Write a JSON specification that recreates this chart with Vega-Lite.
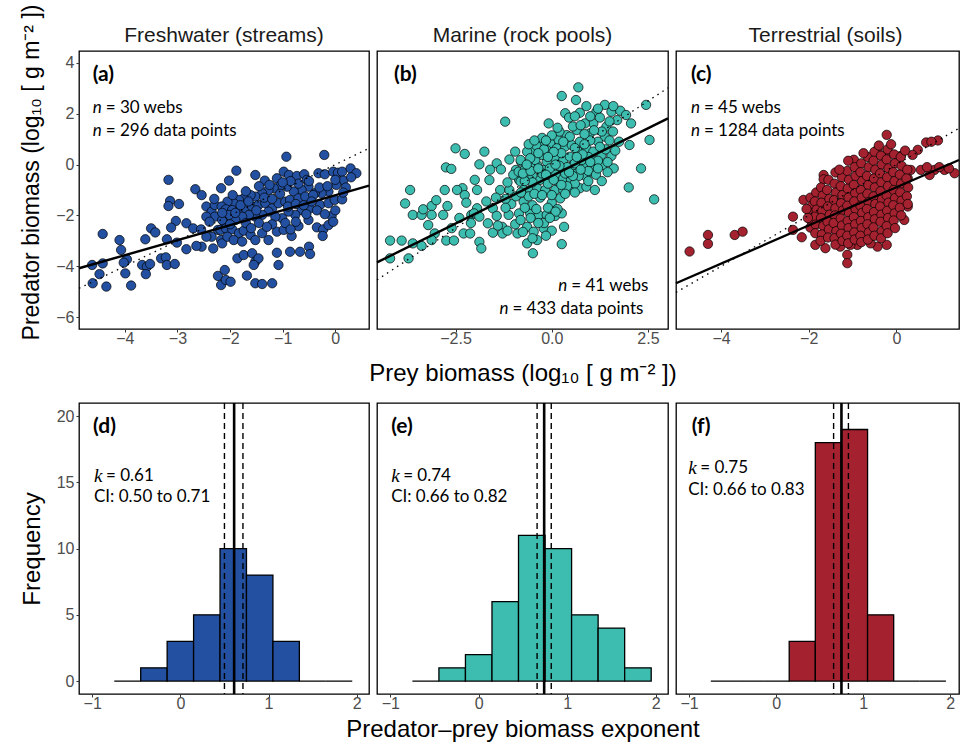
{
"$schema": "https://vega.github.io/schema/vega-lite/v6.json",
"background": "white",
"padding": {"left": 19, "top": 3, "right": 0, "bottom": 0},
"bounds": "flush",
"columns": 3,
"spacing": {"row": 74, "column": 8},
"datasets": {
"freshwater": [
{"prey":-3.17,"pred":-0.60},{"prey":-2.66,"pred":-0.97},{"prey":-2.54,"pred":-1.20},{"prey":-2.17,"pred":-0.93},{"prey":-3.14,"pred":-1.43},{"prey":-3.17,"pred":-1.63},{"prey":-2.97,"pred":-1.55},{"prey":-3.03,"pred":-2.22},{"prey":-3.12,"pred":-2.48},{"prey":-2.83,"pred":-2.31},{"prey":-2.70,"pred":-2.51},{"prey":-2.55,"pred":-2.55},{"prey":-3.50,"pred":-2.51},{"prey":-3.42,"pred":-2.67},{"prey":-3.61,"pred":-2.94},{"prey":-3.20,"pred":-2.94},{"prey":-3.01,"pred":-3.07},{"prey":-2.83,"pred":-3.33},{"prey":-4.42,"pred":-2.73},{"prey":-4.10,"pred":-2.97},{"prey":-4.07,"pred":-3.36},{"prey":-3.96,"pred":-3.73},{"prey":-4.02,"pred":-3.86},{"prey":-4.62,"pred":-3.95},{"prey":-4.42,"pred":-3.89},{"prey":-4.48,"pred":-4.31},{"prey":-4.61,"pred":-4.67},{"prey":-4.35,"pred":-4.80},{"prey":-3.88,"pred":-4.76},{"prey":-3.99,"pred":-4.28},{"prey":-3.67,"pred":-3.95},{"prey":-3.58,"pred":-4.02},{"prey":-3.52,"pred":-3.91},{"prey":-3.60,"pred":-4.31},{"prey":-3.31,"pred":-3.69},{"prey":-3.22,"pred":-3.65},{"prey":-3.20,"pred":-3.95},{"prey":-3.05,"pred":-3.91},{"prey":-2.23,"pred":-4.38},{"prey":-2.17,"pred":-4.74},{"prey":-2.10,"pred":-4.15},{"prey":-2.45,"pred":-1.65},{"prey":-2.35,"pred":-1.85},{"prey":-2.29,"pred":-1.59},{"prey":-2.29,"pred":-2.05},{"prey":-2.45,"pred":-2.05},{"prey":-2.39,"pred":-2.25},{"prey":-2.23,"pred":-2.57},{"prey":-2.35,"pred":-2.84},{"prey":-2.54,"pred":-3.23},{"prey":-2.32,"pred":-3.30},{"prey":-2.17,"pred":-2.97},{"prey":-2.10,"pred":-2.31},{"prey":-2.45,"pred":-2.84},{"prey":-2.64,"pred":-3.20},
{"prey":-0.93,"pred":0.31},{"prey":-0.21,"pred":0.38},{"prey":-1.88,"pred":-0.24},{"prey":-2.02,"pred":-0.63},{"prey":-1.52,"pred":-0.41},{"prey":-1.34,"pred":-0.63},{"prey":-1.11,"pred":-0.54},{"prey":-0.98,"pred":-0.28},{"prey":-0.88,"pred":-0.41},{"prey":-0.73,"pred":-0.45},{"prey":-0.59,"pred":-0.38},{"prey":-0.54,"pred":-0.60},{"prey":-0.32,"pred":-0.34},{"prey":-0.20,"pred":-0.38},{"prey":-0.04,"pred":-0.28},{"prey":0.05,"pred":-0.32},{"prey":0.13,"pred":-0.28},{"prey":0.29,"pred":-0.15},{"prey":0.40,"pred":-0.34},{"prey":0.15,"pred":-0.63},{"prey":0.02,"pred":-0.80},{"prey":-0.13,"pred":-1.06},{"prey":-0.26,"pred":-1.13},{"prey":-0.39,"pred":-1.13},{"prey":-0.51,"pred":-0.87},{"prey":-0.64,"pred":-1.00},{"prey":-0.79,"pred":-1.06},{"prey":-0.92,"pred":-0.87},{"prey":-1.05,"pred":-0.84},{"prey":-1.17,"pred":-0.93},{"prey":-1.27,"pred":-1.00},{"prey":-1.39,"pred":-1.13},{"prey":-1.52,"pred":-1.26},{"prey":-1.61,"pred":-1.20},{"prey":-1.74,"pred":-1.33},{"prey":-1.83,"pred":-1.39},{"prey":-1.93,"pred":-1.52},{"prey":-2.05,"pred":-1.46},{"prey":-2.16,"pred":-1.65},{"prey":-2.08,"pred":-1.76},{"prey":-1.96,"pred":-1.79},{"prey":-1.83,"pred":-1.85},{"prey":-1.71,"pred":-1.72},{"prey":-1.58,"pred":-1.65},{"prey":-1.46,"pred":-1.59},{"prey":-1.33,"pred":-1.52},{"prey":-1.20,"pred":-1.72},{"prey":-1.08,"pred":-1.52},{"prey":-0.95,"pred":-1.46},{"prey":-0.86,"pred":-1.39},{"prey":-0.70,"pred":-1.33},{"prey":-0.57,"pred":-1.26},{"prey":-0.42,"pred":-1.20},{"prey":-0.29,"pred":-1.59},{"prey":-0.13,"pred":-1.52},{"prey":-0.01,"pred":-1.39},{"prey":0.13,"pred":-1.37},{"prey":-0.48,"pred":-1.72},{"prey":-0.64,"pred":-1.79},{"prey":-0.76,"pred":-1.98},{"prey":-0.89,"pred":-1.85},{"prey":-1.01,"pred":-2.11},{"prey":-1.14,"pred":-2.05},{"prey":-1.27,"pred":-1.85},{"prey":-1.39,"pred":-1.98},{"prey":-1.52,"pred":-2.05},{"prey":-1.64,"pred":-1.98},{"prey":-1.77,"pred":-2.05},{"prey":-1.90,"pred":-2.18},{"prey":-2.02,"pred":-1.98},{"prey":-2.15,"pred":-2.18},{"prey":-2.18,"pred":-2.57},{"prey":-2.08,"pred":-2.51},{"prey":-1.96,"pred":-2.55},{"prey":-1.83,"pred":-2.70},{"prey":-1.74,"pred":-2.60},{"prey":-1.61,"pred":-2.77},{"prey":-1.52,"pred":-2.97},{"prey":-1.39,"pred":-2.70},{"prey":-1.27,"pred":-2.97},{"prey":-1.11,"pred":-2.64},{"prey":-0.98,"pred":-2.57},{"prey":-0.83,"pred":-2.81},{"prey":-0.70,"pred":-2.42},{"prey":-0.51,"pred":-2.18},{"prey":-0.35,"pred":-2.47},{"prey":-0.23,"pred":-2.55},{"prey":-0.13,"pred":-2.38},{"prey":-0.07,"pred":-2.02},{"prey":-0.04,"pred":-2.25},{"prey":-2.15,"pred":-3.10},{"prey":-2.05,"pred":-2.84},{"prey":-1.93,"pred":-2.97},{"prey":-1.77,"pred":-3.03},{"prey":-1.86,"pred":-3.69},{"prey":-1.74,"pred":-3.56},{"prey":-1.58,"pred":-3.49},{"prey":-1.52,"pred":-3.82},{"prey":-1.46,"pred":-3.69},{"prey":-1.55,"pred":-3.95},{"prey":-1.11,"pred":-3.47},{"prey":-1.08,"pred":-3.95},{"prey":-0.86,"pred":-3.43},{"prey":-0.67,"pred":-3.43},{"prey":-0.50,"pred":-3.23},{"prey":-0.48,"pred":-3.52},{"prey":-1.68,"pred":-4.37},{"prey":-1.52,"pred":-4.67},{"prey":-1.39,"pred":-4.70},{"prey":-1.20,"pred":-4.67},{"prey":-2.08,"pred":-4.54},{"prey":-1.99,"pred":-4.61},{"prey":-0.24,"pred":-2.81},
{"prey":-1.95,"pred":-1.20},{"prey":-1.80,"pred":-1.60},{"prey":-1.65,"pred":-1.45},{"prey":-1.50,"pred":-1.80},{"prey":-1.35,"pred":-1.30},{"prey":-1.20,"pred":-1.35},{"prey":-1.05,"pred":-1.15},{"prey":-0.90,"pred":-1.65},{"prey":-0.75,"pred":-1.55},{"prey":-0.60,"pred":-1.60},{"prey":-0.45,"pred":-1.45},{"prey":-0.30,"pred":-0.90},{"prey":-0.15,"pred":-0.85},{"prey":0.00,"pred":-0.60},{"prey":0.20,"pred":-0.90},{"prey":-0.50,"pred":-0.65},{"prey":-0.70,"pred":-0.75},{"prey":-0.85,"pred":-0.65},{"prey":-1.00,"pred":-0.70},{"prey":-1.25,"pred":-0.80},{"prey":-1.45,"pred":-0.85},{"prey":-1.70,"pred":-1.05},{"prey":-1.90,"pred":-1.90},{"prey":-1.70,"pred":-2.30},{"prey":-1.45,"pred":-2.30},{"prey":-1.20,"pred":-2.35},{"prey":-0.95,"pred":-2.30},{"prey":-0.75,"pred":-2.25},{"prey":-0.55,"pred":-1.95},{"prey":-0.35,"pred":-1.80},{"prey":-0.20,"pred":-1.95},{"prey":0.00,"pred":-1.80},{"prey":0.15,"pred":-1.10},{"prey":0.30,"pred":-0.50},{"prey":-1.60,"pred":-2.50},{"prey":-1.30,"pred":-2.45},{"prey":-0.85,"pred":-2.55},{"prey":-2.00,"pred":-2.35},{"prey":-2.15,"pred":-1.90},{"prey":-2.30,"pred":-1.35}
],
"marine": [
{"prey":-1.21,"pred":1.69},{"prey":-2.50,"pred":0.64},{"prey":-2.26,"pred":0.42},{"prey":-1.75,"pred":0.51},{"prey":-2.75,"pred":-0.11},{"prey":-2.61,"pred":-0.17},{"prey":-1.88,"pred":0.01},{"prey":-1.43,"pred":0.05},{"prey":-1.32,"pred":-0.19},{"prey":-0.95,"pred":0.51},{"prey":-0.93,"pred":-0.21},{"prey":-0.80,"pred":0.12},{"prey":-1.62,"pred":-0.61},{"prey":-1.34,"pred":-1.00},{"prey":-1.10,"pred":-1.00},{"prey":-1.94,"pred":-1.00},{"prey":-2.32,"pred":-0.93},{"prey":-2.46,"pred":-1.00},{"prey":-2.78,"pred":-1.00},{"prey":-3.68,"pred":-1.00},{"prey":-3.81,"pred":-1.53},{"prey":-3.61,"pred":-1.98},{"prey":-3.38,"pred":-1.98},{"prey":-3.34,"pred":-1.76},{"prey":-3.12,"pred":-1.63},{"prey":-3.12,"pred":-1.98},{"prey":-2.82,"pred":-1.98},{"prey":-2.71,"pred":-1.63},{"prey":-3.21,"pred":-2.38},{"prey":-3.04,"pred":-2.71},{"prey":-3.12,"pred":-2.97},{"prey":-2.74,"pred":-2.99},{"prey":-2.54,"pred":-2.99},{"prey":-2.29,"pred":-2.71},{"prey":-2.12,"pred":-2.71},{"prey":-2.26,"pred":-1.20},{"prey":-2.22,"pred":-1.50},{"prey":-2.09,"pred":-1.98},{"prey":-1.94,"pred":-1.72},{"prey":-2.02,"pred":-1.92},{"prey":-1.88,"pred":-2.05},{"prey":-1.88,"pred":-3.04},{"prey":-1.83,"pred":-3.30},{"prey":-1.66,"pred":-2.31},{"prey":-1.53,"pred":-1.72},{"prey":-1.53,"pred":-2.68},{"prey":-1.43,"pred":-2.02},{"prey":-1.29,"pred":-2.45},{"prey":-1.28,"pred":-2.71},{"prey":-1.12,"pred":-1.98},{"prey":-0.89,"pred":-2.71},{"prey":-0.85,"pred":-1.92},{"prey":-4.20,"pred":-2.99},{"prey":-3.90,"pred":-2.99},{"prey":-3.61,"pred":-3.10},{"prey":-3.38,"pred":-3.20},{"prey":-4.20,"pred":-3.69},{"prey":-3.72,"pred":-3.69},
{"prey":-1.05,"pred":-1.55},{"prey":-0.93,"pred":-1.25},{"prey":-1.20,"pred":-1.35},{"prey":-0.85,"pred":-0.60},{"prey":-1.00,"pred":-0.40},{"prey":-1.15,"pred":-0.70},{"prey":-0.95,"pred":-2.35},{"prey":-1.15,"pred":-2.60},{"prey":-1.40,"pred":-2.40},
{"prey":0.69,"pred":3.04},{"prey":0.26,"pred":2.70},{"prey":0.63,"pred":2.54},{"prey":0.35,"pred":2.02},{"prey":0.73,"pred":2.04},{"prey":-0.08,"pred":1.62},{"prey":1.16,"pred":2.08},{"prey":1.38,"pred":2.35},{"prey":1.55,"pred":2.08},{"prey":1.78,"pred":2.12},{"prey":1.93,"pred":1.95},{"prey":2.06,"pred":1.62},{"prey":2.45,"pred":2.35},{"prey":2.54,"pred":0.97},{"prey":2.02,"pred":0.77},{"prey":1.61,"pred":-0.15},{"prey":2.32,"pred":-0.15},{"prey":2.00,"pred":-0.90},{"prey":2.66,"pred":-1.37},{"prey":1.08,"pred":1.62},{"prey":0.86,"pred":1.62},{"prey":1.42,"pred":1.49},{"prey":1.59,"pred":1.30},{"prey":1.38,"pred":1.10},{"prey":1.20,"pred":0.90},{"prey":0.99,"pred":1.23},{"prey":0.65,"pred":1.36},{"prey":0.39,"pred":1.16},{"prey":0.17,"pred":0.97},{"prey":-0.04,"pred":0.84},{"prey":-0.26,"pred":0.84},{"prey":-0.47,"pred":0.51},{"prey":-0.64,"pred":0.51},{"prey":-0.81,"pred":0.18},{"prey":-0.86,"pred":-0.28},{"prey":-0.81,"pred":-0.67},{"prey":-0.73,"pred":-1.00},{"prey":-0.56,"pred":-1.00},{"prey":-0.38,"pred":-0.93},{"prey":-0.17,"pred":-1.00},{"prey":0.09,"pred":-1.00},{"prey":0.30,"pred":-1.00},{"prey":0.52,"pred":-0.93},{"prey":0.73,"pred":-0.93},{"prey":0.90,"pred":-0.87},{"prey":1.12,"pred":-1.00},{"prey":0.22,"pred":-1.33},{"prey":0.90,"pred":-0.48},{"prey":1.08,"pred":-0.21},{"prey":1.33,"pred":-0.02},{"prey":1.55,"pred":0.34},{"prey":1.29,"pred":0.38},{"prey":1.08,"pred":0.18},{"prey":0.82,"pred":-0.02},{"prey":0.60,"pred":-0.28},{"prey":0.39,"pred":-0.54},{"prey":0.17,"pred":-0.67},{"prey":-0.04,"pred":-0.48},{"prey":-0.21,"pred":-0.21},{"prey":-0.38,"pred":-0.02},{"prey":-0.56,"pred":-0.08},{"prey":-0.64,"pred":-0.41},{"prey":-0.13,"pred":0.12},{"prey":0.09,"pred":0.25},{"prey":0.30,"pred":0.18},{"prey":0.47,"pred":0.31},{"prey":0.69,"pred":0.51},{"prey":0.90,"pred":0.64},{"prey":1.08,"pred":0.51},{"prey":0.78,"pred":0.18},{"prey":0.56,"pred":-0.02},{"prey":0.30,"pred":-0.21},{"prey":0.04,"pred":-0.15},{"prey":-0.26,"pred":0.38},{"prey":-0.43,"pred":0.18},{"prey":0.13,"pred":0.64},{"prey":0.35,"pred":0.71},{"prey":0.52,"pred":0.77},{"prey":0.73,"pred":0.90},{"prey":0.47,"pred":1.10},{"prey":-0.13,"pred":0.57},{"prey":-0.56,"pred":0.25},{"prey":-0.73,"pred":-1.46},{"prey":-0.56,"pred":-1.92},{"prey":-0.34,"pred":-1.98},{"prey":-0.13,"pred":-1.98},{"prey":0.09,"pred":-2.02},{"prey":0.26,"pred":-1.92},{"prey":-0.81,"pred":-2.18},{"prey":-0.64,"pred":-2.45},{"prey":-0.47,"pred":-2.64},{"prey":-0.21,"pred":-2.51},{"prey":0.32,"pred":-2.45},{"prey":0.26,"pred":-3.13},{"prey":-0.49,"pred":-3.49},{"prey":-0.64,"pred":-3.10},{"prey":-0.38,"pred":-2.97},
{"prey":-0.70,"pred":-0.20},{"prey":-0.50,"pred":-0.45},{"prey":-0.30,"pred":-0.60},{"prey":-0.10,"pred":-0.75},{"prey":0.10,"pred":-0.40},{"prey":0.30,"pred":-0.55},{"prey":0.50,"pred":-0.60},{"prey":0.70,"pred":-0.45},{"prey":0.95,"pred":-0.25},{"prey":1.20,"pred":0.15},{"prey":1.40,"pred":0.60},{"prey":1.25,"pred":0.70},{"prey":1.00,"pred":0.95},{"prey":0.85,"pred":1.20},{"prey":0.55,"pred":1.50},{"prey":0.20,"pred":1.30},{"prey":0.00,"pred":1.15},{"prey":-0.25,"pred":1.05},{"prey":-0.40,"pred":0.75},{"prey":-0.60,"pred":0.80},{"prey":0.25,"pred":0.45},{"prey":0.05,"pred":0.50},{"prey":-0.20,"pred":0.60},{"prey":0.60,"pred":0.05},{"prey":0.40,"pred":-0.10},{"prey":0.20,"pred":-0.05},{"prey":-0.05,"pred":-0.15},{"prey":0.95,"pred":0.30},{"prey":1.15,"pred":-0.40},{"prey":1.30,"pred":-0.65},{"prey":0.60,"pred":-0.75},{"prey":0.40,"pred":-0.85},{"prey":-0.25,"pred":-0.35},{"prey":-0.50,"pred":-0.70},{"prey":-0.70,"pred":-0.65},{"prey":1.70,"pred":1.75},{"prey":1.50,"pred":1.70},{"prey":1.25,"pred":1.85},{"prey":1.00,"pred":1.90},{"prey":0.45,"pred":1.85},{"prey":1.75,"pred":0.90},{"prey":0.00,"pred":-1.50},{"prey":-0.30,"pred":-1.30},{"prey":-0.50,"pred":-1.60},{"prey":0.15,"pred":-1.75},{"prey":-0.60,"pred":-1.25},{"prey":-0.20,"pred":-2.30},{"prey":0.00,"pred":-2.60},
{"prey":-0.45,"pred":0.95},{"prey":-0.15,"pred":0.95},{"prey":0.15,"pred":1.45},{"prey":0.30,"pred":0.90},{"prey":0.60,"pred":0.65},{"prey":0.80,"pred":0.40},{"prey":1.00,"pred":0.10},{"prey":1.20,"pred":-0.15},{"prey":1.45,"pred":0.10},{"prey":1.65,"pred":0.55},{"prey":1.50,"pred":0.95},{"prey":1.30,"pred":1.30},{"prey":1.10,"pred":1.35},{"prey":0.75,"pred":1.55},{"prey":0.60,"pred":1.90},{"prey":0.90,"pred":2.30},{"prey":1.20,"pred":2.20},{"prey":1.60,"pred":2.30},{"prey":-0.35,"pred":0.45},{"prey":-0.10,"pred":0.30},{"prey":0.10,"pred":0.00},{"prey":0.35,"pred":-0.35},{"prey":0.55,"pred":-0.45},{"prey":0.75,"pred":-0.20},{"prey":0.95,"pred":-0.65},{"prey":1.45,"pred":-0.30},{"prey":-0.75,"pred":-0.35},{"prey":-0.55,"pred":-0.25},{"prey":-0.35,"pred":-0.15},{"prey":-0.15,"pred":-0.40},{"prey":0.05,"pred":-0.60},{"prey":0.25,"pred":-0.80},{"prey":0.45,"pred":-0.30},{"prey":0.65,"pred":0.30},{"prey":0.85,"pred":0.80},{"prey":-0.65,"pred":0.00},{"prey":-0.80,"pred":-1.10},{"prey":-0.45,"pred":-1.15},{"prey":-0.25,"pred":-1.20},{"prey":0.00,"pred":-1.20},{"prey":0.35,"pred":-1.15},{"prey":0.60,"pred":-1.10},{"prey":-0.70,"pred":-1.70},{"prey":-0.40,"pred":-1.75},{"prey":-0.10,"pred":-1.70},{"prey":0.10,"pred":-1.85},{"prey":-0.55,"pred":-2.10},{"prey":-0.35,"pred":-2.30},{"prey":-0.75,"pred":-2.65},{"prey":-0.50,"pred":-2.90},{"prey":-0.15,"pred":-2.80},{"prey":-0.05,"pred":-2.10},{"prey":-1.20,"pred":-1.70},{"prey":-1.45,"pred":-1.30},{"prey":-1.70,"pred":-1.45},{"prey":-2.00,"pred":-0.60},{"prey":-1.60,"pred":-0.20},{"prey":-1.10,"pred":0.20},{"prey":-2.10,"pred":-2.30},{"prey":-2.40,"pred":-2.10},{"prey":-2.60,"pred":-2.50},{"prey":-3.00,"pred":-1.40}
],
"terrestrial": [
{"prey":-4.72,"pred":-3.42},{"prey":-4.30,"pred":-2.77},{"prey":-4.30,"pred":-3.12},{"prey":-3.69,"pred":-2.77},{"prey":-3.51,"pred":-2.64},{"prey":-2.36,"pred":-2.05},{"prey":-2.36,"pred":-2.57},{"prey":-2.16,"pred":-2.86},{"prey":-1.12,"pred":-3.55},{"prey":-1.12,"pred":-3.88},{"prey":-0.22,"pred":1.17},{"prey":0.68,"pred":0.87},{"prey":0.95,"pred":0.95},{"prey":0.80,"pred":0.90},{"prey":0.49,"pred":0.58},{"prey":0.37,"pred":0.38},{"prey":0.10,"pred":0.34},{"prey":-0.97,"pred":0.19},{"prey":-0.43,"pred":0.58},{"prey":-0.20,"pred":0.45},{"prey":-1.66,"pred":-0.41},{"prey":-1.66,"pred":-0.58},{"prey":-1.39,"pred":-0.31},{"prey":0.56,"pred":-0.21},{"prey":0.87,"pred":-0.21},{"prey":1.10,"pred":-0.21},{"prey":1.33,"pred":-0.34},{"prey":0.76,"pred":-0.41},{"prey":0.33,"pred":-0.21},{"prey":0.26,"pred":-0.54},{"prey":0.26,"pred":-1.65},{"prey":0.18,"pred":-2.18},{"prey":-0.22,"pred":-3.16},{"prey":-0.43,"pred":-3.23},{"prey":-0.59,"pred":-3.10},{"prey":-0.89,"pred":-3.16},{"prey":-1.05,"pred":-3.16},{"prey":-1.28,"pred":-3.23},{"prey":-1.62,"pred":-3.29},{"prey":-1.85,"pred":-3.16},{"prey":-2.12,"pred":-1.39},{"prey":0.98,"pred":-0.10},{"prey":1.20,"pred":-0.15},{"prey":0.70,"pred":-0.10},
{"prey":-1.96,"pred":-1.30},{"prey":-1.93,"pred":-1.62},{"prey":-1.97,"pred":-1.90},{"prey":-1.94,"pred":-2.22},{"prey":-1.96,"pred":-2.48},
{"prey":-1.83,"pred":-1.10},{"prey":-1.86,"pred":-1.45},{"prey":-1.82,"pred":-1.77},{"prey":-1.87,"pred":-2.05},{"prey":-1.84,"pred":-2.36},{"prey":-1.85,"pred":-2.70},
{"prey":-1.72,"pred":-0.90},{"prey":-1.68,"pred":-1.22},{"prey":-1.71,"pred":-1.50},{"prey":-1.69,"pred":-1.82},{"prey":-1.72,"pred":-2.10},{"prey":-1.67,"pred":-2.42},{"prey":-1.70,"pred":-2.75},{"prey":-1.73,"pred":-3.00},
{"prey":-1.55,"pred":-0.60},{"prey":-1.58,"pred":-1.00},{"prey":-1.53,"pred":-1.35},{"prey":-1.56,"pred":-1.65},{"prey":-1.52,"pred":-1.97},{"prey":-1.57,"pred":-2.25},{"prey":-1.54,"pred":-2.55},{"prey":-1.56,"pred":-2.87},
{"prey":-1.41,"pred":-0.75},{"prey":-1.38,"pred":-1.10},{"prey":-1.42,"pred":-1.40},{"prey":-1.39,"pred":-1.72},{"prey":-1.40,"pred":-2.00},{"prey":-1.43,"pred":-2.30},{"prey":-1.37,"pred":-2.62},{"prey":-1.41,"pred":-2.90},{"prey":-1.39,"pred":-3.15},
{"prey":-1.24,"pred":-0.50},{"prey":-1.27,"pred":-0.85},{"prey":-1.23,"pred":-1.20},{"prey":-1.26,"pred":-1.52},{"prey":-1.22,"pred":-1.80},{"prey":-1.27,"pred":-2.12},{"prey":-1.24,"pred":-2.40},{"prey":-1.26,"pred":-2.72},{"prey":-1.23,"pred":-3.00},
{"prey":-1.10,"pred":0.15},{"prey":-1.12,"pred":-0.25},{"prey":-1.08,"pred":-0.60},{"prey":-1.11,"pred":-0.95},{"prey":-1.09,"pred":-1.30},{"prey":-1.12,"pred":-1.62},{"prey":-1.08,"pred":-1.90},{"prey":-1.11,"pred":-2.22},{"prey":-1.09,"pred":-2.50},{"prey":-1.12,"pred":-2.80},{"prey":-1.10,"pred":-3.10},
{"prey":-0.95,"pred":-0.10},{"prey":-0.93,"pred":-0.45},{"prey":-0.97,"pred":-0.80},{"prey":-0.94,"pred":-1.12},{"prey":-0.96,"pred":-1.45},{"prey":-0.93,"pred":-1.75},{"prey":-0.97,"pred":-2.07},{"prey":-0.94,"pred":-2.35},{"prey":-0.96,"pred":-2.67},{"prey":-0.95,"pred":-2.95},
{"prey":-0.80,"pred":0.05},{"prey":-0.82,"pred":-0.30},{"prey":-0.78,"pred":-0.65},{"prey":-0.81,"pred":-1.00},{"prey":-0.79,"pred":-1.30},{"prey":-0.82,"pred":-1.62},{"prey":-0.78,"pred":-1.90},{"prey":-0.81,"pred":-2.22},{"prey":-0.79,"pred":-2.50},{"prey":-0.82,"pred":-2.80},{"prey":-0.80,"pred":-3.05},
{"prey":-0.65,"pred":0.30},{"prey":-0.63,"pred":-0.10},{"prey":-0.67,"pred":-0.45},{"prey":-0.64,"pred":-0.80},{"prey":-0.66,"pred":-1.15},{"prey":-0.63,"pred":-1.47},{"prey":-0.67,"pred":-1.75},{"prey":-0.64,"pred":-2.07},{"prey":-0.66,"pred":-2.35},{"prey":-0.63,"pred":-2.67},{"prey":-0.65,"pred":-2.95},
{"prey":-0.50,"pred":0.50},{"prey":-0.52,"pred":0.15},{"prey":-0.48,"pred":-0.20},{"prey":-0.51,"pred":-0.55},{"prey":-0.49,"pred":-0.90},{"prey":-0.52,"pred":-1.25},{"prey":-0.48,"pred":-1.55},{"prey":-0.51,"pred":-1.87},{"prey":-0.49,"pred":-2.15},{"prey":-0.52,"pred":-2.47},{"prey":-0.50,"pred":-2.80},
{"prey":-0.35,"pred":0.35},{"prey":-0.33,"pred":0.00},{"prey":-0.37,"pred":-0.35},{"prey":-0.34,"pred":-0.70},{"prey":-0.36,"pred":-1.05},{"prey":-0.33,"pred":-1.37},{"prey":-0.37,"pred":-1.65},{"prey":-0.34,"pred":-1.97},{"prey":-0.36,"pred":-2.25},{"prey":-0.33,"pred":-2.62},{"prey":-0.35,"pred":-2.90},
{"prey":-0.20,"pred":0.60},{"prey":-0.22,"pred":0.20},{"prey":-0.18,"pred":-0.15},{"prey":-0.21,"pred":-0.50},{"prey":-0.19,"pred":-0.85},{"prey":-0.22,"pred":-1.22},{"prey":-0.18,"pred":-1.50},{"prey":-0.21,"pred":-1.82},{"prey":-0.19,"pred":-2.10},{"prey":-0.22,"pred":-2.42},{"prey":-0.20,"pred":-2.70},
{"prey":-0.05,"pred":0.40},{"prey":-0.03,"pred":0.05},{"prey":-0.07,"pred":-0.30},{"prey":-0.04,"pred":-0.65},{"prey":-0.06,"pred":-1.00},{"prey":-0.03,"pred":-1.32},{"prey":-0.07,"pred":-1.60},{"prey":-0.04,"pred":-1.92},{"prey":-0.06,"pred":-2.20},{"prey":-0.03,"pred":-2.50},
{"prey":0.10,"pred":0.30},{"prey":0.12,"pred":-0.05},{"prey":0.08,"pred":-0.40},{"prey":0.11,"pred":-0.75},{"prey":0.09,"pred":-1.10},{"prey":0.12,"pred":-1.42},{"prey":0.08,"pred":-1.70},{"prey":0.11,"pred":-2.00},
{"prey":0.25,"pred":-0.20},{"prey":0.23,"pred":-0.55},{"prey":0.27,"pred":-0.90},{"prey":0.24,"pred":-1.25},{"prey":0.26,"pred":-1.55},
{"prey":-2.05,"pred":-1.75},{"prey":-2.02,"pred":-2.10},{"prey":-0.40,"pred":0.75},{"prey":-0.12,"pred":0.80},{"prey":0.20,"pred":0.55},{"prey":-0.75,"pred":0.45},{"prey":-1.30,"pred":-0.20}
],
"fits": [
{"panel":"a","line":"fit","prey":-4.87,"pred":-4.08},{"panel":"a","line":"fit","prey":0.64,"pred":-0.83},
{"panel":"a","line":"one","prey":-4.87,"pred":-4.87},{"panel":"a","line":"one","prey":0.64,"pred":0.64},
{"panel":"b","line":"fit","prey":-4.54,"pred":-3.85},{"panel":"b","line":"fit","prey":3.02,"pred":1.82},
{"panel":"b","line":"one","prey":-4.54,"pred":-4.54},{"panel":"b","line":"one","prey":3.02,"pred":3.02},
{"panel":"c","line":"fit","prey":-5.03,"pred":-4.67},{"panel":"c","line":"fit","prey":1.43,"pred":0.18},
{"panel":"c","line":"one","prey":-5.03,"pred":-5.03},{"panel":"c","line":"one","prey":1.43,"pred":1.43}
],
"hist": [
{"panel":"d","lo":-0.75,"hi":-0.45,"count":0},{"panel":"d","lo":-0.45,"hi":-0.15,"count":1},{"panel":"d","lo":-0.15,"hi":0.15,"count":3},{"panel":"d","lo":0.15,"hi":0.45,"count":5},{"panel":"d","lo":0.45,"hi":0.75,"count":10},{"panel":"d","lo":0.75,"hi":1.05,"count":8},{"panel":"d","lo":1.05,"hi":1.35,"count":3},{"panel":"d","lo":1.35,"hi":1.65,"count":0},{"panel":"d","lo":1.65,"hi":1.95,"count":0},
{"panel":"e","lo":-0.75,"hi":-0.45,"count":0},{"panel":"e","lo":-0.45,"hi":-0.15,"count":1},{"panel":"e","lo":-0.15,"hi":0.15,"count":2},{"panel":"e","lo":0.15,"hi":0.45,"count":6},{"panel":"e","lo":0.45,"hi":0.75,"count":11},{"panel":"e","lo":0.75,"hi":1.05,"count":10},{"panel":"e","lo":1.05,"hi":1.35,"count":5},{"panel":"e","lo":1.35,"hi":1.65,"count":4},{"panel":"e","lo":1.65,"hi":1.95,"count":1},
{"panel":"f","lo":-0.75,"hi":-0.45,"count":0},{"panel":"f","lo":-0.45,"hi":-0.15,"count":0},{"panel":"f","lo":-0.15,"hi":0.15,"count":0},{"panel":"f","lo":0.15,"hi":0.45,"count":3},{"panel":"f","lo":0.45,"hi":0.75,"count":18},{"panel":"f","lo":0.75,"hi":1.05,"count":19},{"panel":"f","lo":1.05,"hi":1.35,"count":5},{"panel":"f","lo":1.35,"hi":1.65,"count":0},{"panel":"f","lo":1.65,"hi":1.95,"count":0}
],
"exponent": [
{"panel":"d","k":0.61,"ci_lo":0.50,"ci_hi":0.71},
{"panel":"e","k":0.74,"ci_lo":0.66,"ci_hi":0.82},
{"panel":"f","k":0.75,"ci_lo":0.66,"ci_hi":0.83}
],
"one": [{}]
},
"concat": [
{
"width": 290, "height": 278,
"title": {"text": "Freshwater (streams)", "offset": -42},
"layer": [
{"data": {"name": "freshwater"}, "mark": {"type": "circle", "size": 88, "opacity": 1, "fill": "#2350A0", "stroke": "black", "strokeWidth": 0.7, "clip": true},
 "encoding": {
  "x": {"field": "prey", "type": "quantitative", "scale": {"domain": [-4.87, 0.64], "nice": false, "zero": false}, "axis": {"values": [-4, -3, -2, -1, 0], "format": "d", "title": null}},
  "y": {"field": "pred", "type": "quantitative", "scale": {"domain": [-6.47, 4.47], "nice": false, "zero": false}, "axis": {"values": [-6, -4, -2, 0, 2, 4], "format": "d", "title": "Predator biomass (log₁₀ [ g m⁻² ])", "titleY": 121, "titleFontSize": 23}}}},
{"data": {"name": "fits"}, "transform": [{"filter": "datum.panel == 'a' && datum.line == 'one'"}], "mark": {"type": "line", "color": "black", "strokeWidth": 1.3, "strokeDash": [1.5, 4.5]}, "encoding": {"x": {"field": "prey", "type": "quantitative"}, "y": {"field": "pred", "type": "quantitative"}}},
{"data": {"name": "fits"}, "transform": [{"filter": "datum.panel == 'a' && datum.line == 'fit'"}], "mark": {"type": "line", "color": "black", "strokeWidth": 2.4}, "encoding": {"x": {"field": "prey", "type": "quantitative"}, "y": {"field": "pred", "type": "quantitative"}}},
{"data": {"name": "one"}, "mark": {"type": "text", "text": "(a)", "font": "Lato", "fontWeight": "bold", "fontSize": 21, "align": "left", "baseline": "middle"}, "encoding": {"x": {"datum": -4.61}, "y": {"datum": 3.53}}},
{"data": {"name": "one"}, "mark": {"type": "text", "text": "n", "font": "Lato", "fontStyle": "italic", "fontSize": 17, "align": "left", "baseline": "middle"}, "encoding": {"x": {"datum": -4.61}, "y": {"datum": 2.23}}},
{"data": {"name": "one"}, "mark": {"type": "text", "text": "= 30 webs", "font": "Lato", "fontSize": 17, "align": "left", "baseline": "middle", "dx": 13}, "encoding": {"x": {"datum": -4.61}, "y": {"datum": 2.23}}},
{"data": {"name": "one"}, "mark": {"type": "text", "text": "n", "font": "Lato", "fontStyle": "italic", "fontSize": 17, "align": "left", "baseline": "middle"}, "encoding": {"x": {"datum": -4.61}, "y": {"datum": 1.32}}},
{"data": {"name": "one"}, "mark": {"type": "text", "text": "= 296 data points", "font": "Lato", "fontSize": 17, "align": "left", "baseline": "middle", "dx": 13}, "encoding": {"x": {"datum": -4.61}, "y": {"datum": 1.32}}}
]
},
{
"width": 291, "height": 278,
"title": {"text": "Marine (rock pools)"},
"layer": [
{"data": {"name": "marine"}, "mark": {"type": "circle", "size": 88, "opacity": 1, "fill": "#3DBDAF", "stroke": "black", "strokeWidth": 0.7, "clip": true},
 "encoding": {
  "x": {"field": "prey", "type": "quantitative", "scale": {"domain": [-4.54, 3.02], "nice": false, "zero": false}, "axis": {"values": [-2.5, 0, 2.5], "format": ".1f", "title": "Prey biomass (log₁₀ [ g m⁻² ])", "titlePadding": 15}},
  "y": {"field": "pred", "type": "quantitative", "scale": {"domain": [-6.47, 4.47], "nice": false, "zero": false}, "axis": null}}},
{"data": {"name": "fits"}, "transform": [{"filter": "datum.panel == 'b' && datum.line == 'one'"}], "mark": {"type": "line", "color": "black", "strokeWidth": 1.3, "strokeDash": [1.5, 4.5]}, "encoding": {"x": {"field": "prey", "type": "quantitative"}, "y": {"field": "pred", "type": "quantitative"}}},
{"data": {"name": "fits"}, "transform": [{"filter": "datum.panel == 'b' && datum.line == 'fit'"}], "mark": {"type": "line", "color": "black", "strokeWidth": 2.4}, "encoding": {"x": {"field": "prey", "type": "quantitative"}, "y": {"field": "pred", "type": "quantitative"}}},
{"data": {"name": "one"}, "mark": {"type": "text", "text": "(b)", "font": "Lato", "fontWeight": "bold", "fontSize": 21, "align": "left", "baseline": "middle"}, "encoding": {"x": {"datum": -4.10}, "y": {"datum": 3.53}}},
{"data": {"name": "one"}, "mark": {"type": "text", "text": "n", "font": "Lato", "fontStyle": "italic", "fontSize": 17, "align": "left", "baseline": "middle"}, "encoding": {"x": {"datum": 0.17}, "y": {"datum": -4.78}}},
{"data": {"name": "one"}, "mark": {"type": "text", "text": "= 41 webs", "font": "Lato", "fontSize": 17, "align": "left", "baseline": "middle", "dx": 13}, "encoding": {"x": {"datum": 0.17}, "y": {"datum": -4.78}}},
{"data": {"name": "one"}, "mark": {"type": "text", "text": "n", "font": "Lato", "fontStyle": "italic", "fontSize": 17, "align": "left", "baseline": "middle"}, "encoding": {"x": {"datum": -1.36}, "y": {"datum": -5.69}}},
{"data": {"name": "one"}, "mark": {"type": "text", "text": "= 433 data points", "font": "Lato", "fontSize": 17, "align": "left", "baseline": "middle", "dx": 13}, "encoding": {"x": {"datum": -1.36}, "y": {"datum": -5.69}}}
]
},
{
"width": 283, "height": 278,
"title": {"text": "Terrestrial (soils)", "dx": 8},
"layer": [
{"data": {"name": "terrestrial"}, "mark": {"type": "circle", "size": 88, "opacity": 1, "fill": "#A4222F", "stroke": "black", "strokeWidth": 0.7, "clip": true},
 "encoding": {
  "x": {"field": "prey", "type": "quantitative", "scale": {"domain": [-5.03, 1.43], "nice": false, "zero": false}, "axis": {"values": [-4, -2, 0], "format": "d", "title": null}},
  "y": {"field": "pred", "type": "quantitative", "scale": {"domain": [-6.47, 4.47], "nice": false, "zero": false}, "axis": null}}},
{"data": {"name": "fits"}, "transform": [{"filter": "datum.panel == 'c' && datum.line == 'one'"}], "mark": {"type": "line", "color": "black", "strokeWidth": 1.3, "strokeDash": [1.5, 4.5]}, "encoding": {"x": {"field": "prey", "type": "quantitative"}, "y": {"field": "pred", "type": "quantitative"}}},
{"data": {"name": "fits"}, "transform": [{"filter": "datum.panel == 'c' && datum.line == 'fit'"}], "mark": {"type": "line", "color": "black", "strokeWidth": 2.4}, "encoding": {"x": {"field": "prey", "type": "quantitative"}, "y": {"field": "pred", "type": "quantitative"}}},
{"data": {"name": "one"}, "mark": {"type": "text", "text": "(c)", "font": "Lato", "fontWeight": "bold", "fontSize": 21, "align": "left", "baseline": "middle"}, "encoding": {"x": {"datum": -4.69}, "y": {"datum": 3.53}}},
{"data": {"name": "one"}, "mark": {"type": "text", "text": "n", "font": "Lato", "fontStyle": "italic", "fontSize": 17, "align": "left", "baseline": "middle"}, "encoding": {"x": {"datum": -4.69}, "y": {"datum": 2.23}}},
{"data": {"name": "one"}, "mark": {"type": "text", "text": "= 45 webs", "font": "Lato", "fontSize": 17, "align": "left", "baseline": "middle", "dx": 13}, "encoding": {"x": {"datum": -4.69}, "y": {"datum": 2.23}}},
{"data": {"name": "one"}, "mark": {"type": "text", "text": "n", "font": "Lato", "fontStyle": "italic", "fontSize": 17, "align": "left", "baseline": "middle"}, "encoding": {"x": {"datum": -4.69}, "y": {"datum": 1.32}}},
{"data": {"name": "one"}, "mark": {"type": "text", "text": "= 1284 data points", "font": "Lato", "fontSize": 17, "align": "left", "baseline": "middle", "dx": 13}, "encoding": {"x": {"datum": -4.69}, "y": {"datum": 1.32}}}
]
},
{
"width": 290, "height": 291,
"layer": [
{"data": {"name": "hist"}, "transform": [{"filter": "datum.panel == 'd'"}], "mark": {"type": "rect", "fill": "#2350A0", "stroke": "black", "strokeWidth": 1.3},
 "encoding": {
  "x": {"field": "lo", "type": "quantitative", "scale": {"domain": [-1.15, 2.14], "nice": false, "zero": false}, "axis": {"values": [-1, 0, 1, 2], "format": "d", "title": null}},
  "x2": {"field": "hi"},
  "y": {"field": "count", "type": "quantitative", "scale": {"domain": [-0.98, 21], "nice": false, "zero": false}, "axis": {"values": [0, 5, 10, 15, 20], "format": "d", "title": "Frequency"}},
  "y2": {"datum": 0}}},
{"data": {"name": "exponent"}, "transform": [{"filter": "datum.panel == 'd'"}], "mark": {"type": "rule", "color": "black", "strokeWidth": 1.4, "strokeDash": [6, 4]}, "encoding": {"x": {"field": "ci_lo", "type": "quantitative"}}},
{"data": {"name": "exponent"}, "transform": [{"filter": "datum.panel == 'd'"}], "mark": {"type": "rule", "color": "black", "strokeWidth": 1.4, "strokeDash": [6, 4]}, "encoding": {"x": {"field": "ci_hi", "type": "quantitative"}}},
{"data": {"name": "exponent"}, "transform": [{"filter": "datum.panel == 'd'"}], "mark": {"type": "rule", "color": "black", "strokeWidth": 2.6}, "encoding": {"x": {"field": "k", "type": "quantitative"}}},
{"data": {"name": "one"}, "mark": {"type": "text", "text": "(d)", "font": "Lato", "fontWeight": "bold", "fontSize": 21, "align": "left", "baseline": "middle"}, "encoding": {"x": {"datum": -0.99}, "y": {"datum": 19.2}}},
{"data": {"name": "one"}, "mark": {"type": "text", "text": "k", "font": "Liberation Serif", "fontStyle": "italic", "fontSize": 19, "align": "left", "baseline": "middle"}, "encoding": {"x": {"datum": -0.98}, "y": {"datum": 15.5}}},
{"data": {"name": "one"}, "mark": {"type": "text", "text": "= 0.61", "font": "Lato", "fontSize": 17, "align": "left", "baseline": "middle", "dx": 12}, "encoding": {"x": {"datum": -0.98}, "y": {"datum": 15.5}}},
{"data": {"name": "one"}, "mark": {"type": "text", "text": "CI: 0.50 to 0.71", "font": "Lato", "fontSize": 17, "align": "left", "baseline": "middle"}, "encoding": {"x": {"datum": -0.98}, "y": {"datum": 13.9}}}
]
},
{
"width": 291, "height": 291,
"layer": [
{"data": {"name": "hist"}, "transform": [{"filter": "datum.panel == 'e'"}], "mark": {"type": "rect", "fill": "#3DBDAF", "stroke": "black", "strokeWidth": 1.3},
 "encoding": {
  "x": {"field": "lo", "type": "quantitative", "scale": {"domain": [-1.15, 2.14], "nice": false, "zero": false}, "axis": {"values": [-1, 0, 1, 2], "format": "d", "title": "Predator–prey biomass exponent", "titlePadding": 6}},
  "x2": {"field": "hi"},
  "y": {"field": "count", "type": "quantitative", "scale": {"domain": [-0.98, 21], "nice": false, "zero": false}, "axis": null},
  "y2": {"datum": 0}}},
{"data": {"name": "exponent"}, "transform": [{"filter": "datum.panel == 'e'"}], "mark": {"type": "rule", "color": "black", "strokeWidth": 1.4, "strokeDash": [6, 4]}, "encoding": {"x": {"field": "ci_lo", "type": "quantitative"}}},
{"data": {"name": "exponent"}, "transform": [{"filter": "datum.panel == 'e'"}], "mark": {"type": "rule", "color": "black", "strokeWidth": 1.4, "strokeDash": [6, 4]}, "encoding": {"x": {"field": "ci_hi", "type": "quantitative"}}},
{"data": {"name": "exponent"}, "transform": [{"filter": "datum.panel == 'e'"}], "mark": {"type": "rule", "color": "black", "strokeWidth": 2.6}, "encoding": {"x": {"field": "k", "type": "quantitative"}}},
{"data": {"name": "one"}, "mark": {"type": "text", "text": "(e)", "font": "Lato", "fontWeight": "bold", "fontSize": 21, "align": "left", "baseline": "middle"}, "encoding": {"x": {"datum": -0.99}, "y": {"datum": 19.2}}},
{"data": {"name": "one"}, "mark": {"type": "text", "text": "k", "font": "Liberation Serif", "fontStyle": "italic", "fontSize": 19, "align": "left", "baseline": "middle"}, "encoding": {"x": {"datum": -0.99}, "y": {"datum": 15.5}}},
{"data": {"name": "one"}, "mark": {"type": "text", "text": "= 0.74", "font": "Lato", "fontSize": 17, "align": "left", "baseline": "middle", "dx": 12}, "encoding": {"x": {"datum": -0.99}, "y": {"datum": 15.5}}},
{"data": {"name": "one"}, "mark": {"type": "text", "text": "CI: 0.66 to 0.82", "font": "Lato", "fontSize": 17, "align": "left", "baseline": "middle"}, "encoding": {"x": {"datum": -0.99}, "y": {"datum": 13.9}}}
]
},
{
"width": 283, "height": 291,
"layer": [
{"data": {"name": "hist"}, "transform": [{"filter": "datum.panel == 'f'"}], "mark": {"type": "rect", "fill": "#A4222F", "stroke": "black", "strokeWidth": 1.3},
 "encoding": {
  "x": {"field": "lo", "type": "quantitative", "scale": {"domain": [-1.15, 2.10], "nice": false, "zero": false}, "axis": {"values": [-1, 0, 1, 2], "format": "d", "title": null}},
  "x2": {"field": "hi"},
  "y": {"field": "count", "type": "quantitative", "scale": {"domain": [-0.98, 21], "nice": false, "zero": false}, "axis": null},
  "y2": {"datum": 0}}},
{"data": {"name": "exponent"}, "transform": [{"filter": "datum.panel == 'f'"}], "mark": {"type": "rule", "color": "black", "strokeWidth": 1.4, "strokeDash": [6, 4]}, "encoding": {"x": {"field": "ci_lo", "type": "quantitative"}}},
{"data": {"name": "exponent"}, "transform": [{"filter": "datum.panel == 'f'"}], "mark": {"type": "rule", "color": "black", "strokeWidth": 1.4, "strokeDash": [6, 4]}, "encoding": {"x": {"field": "ci_hi", "type": "quantitative"}}},
{"data": {"name": "exponent"}, "transform": [{"filter": "datum.panel == 'f'"}], "mark": {"type": "rule", "color": "black", "strokeWidth": 2.6}, "encoding": {"x": {"field": "k", "type": "quantitative"}}},
{"data": {"name": "one"}, "mark": {"type": "text", "text": "(f)", "font": "Lato", "fontWeight": "bold", "fontSize": 21, "align": "left", "baseline": "middle"}, "encoding": {"x": {"datum": -0.97}, "y": {"datum": 19.2}}},
{"data": {"name": "one"}, "mark": {"type": "text", "text": "k", "font": "Liberation Serif", "fontStyle": "italic", "fontSize": 19, "align": "left", "baseline": "middle"}, "encoding": {"x": {"datum": -1.01}, "y": {"datum": 16.1}}},
{"data": {"name": "one"}, "mark": {"type": "text", "text": "= 0.75", "font": "Lato", "fontSize": 17, "align": "left", "baseline": "middle", "dx": 12}, "encoding": {"x": {"datum": -1.01}, "y": {"datum": 16.1}}},
{"data": {"name": "one"}, "mark": {"type": "text", "text": "CI: 0.66 to 0.83", "font": "Lato", "fontSize": 17, "align": "left", "baseline": "middle"}, "encoding": {"x": {"datum": -1.01}, "y": {"datum": 14.4}}}
]
}
],
"config": {
 "font": "Liberation Sans",
 "view": {"stroke": "black", "strokeWidth": 1.3},
 "axis": {"grid": false, "domain": false, "ticks": true, "tickColor": "#333333", "tickSize": 3, "tickWidth": 1, "labelColor": "#4D4D4D", "labelFontSize": 16, "labelFont": "Liberation Sans", "labelPadding": -1.5, "titleFont": "Liberation Sans", "titleFontSize": 24, "titleFontWeight": "normal", "titleColor": "black"},
 "axisY": {"titlePadding": 12, "labelPadding": 2},
 "axisX": {"titlePadding": 6},
 "title": {"font": "Liberation Sans", "fontSize": 21, "fontWeight": "normal", "color": "#1A1A1A", "offset": 5, "frame": "group"}
}
}
